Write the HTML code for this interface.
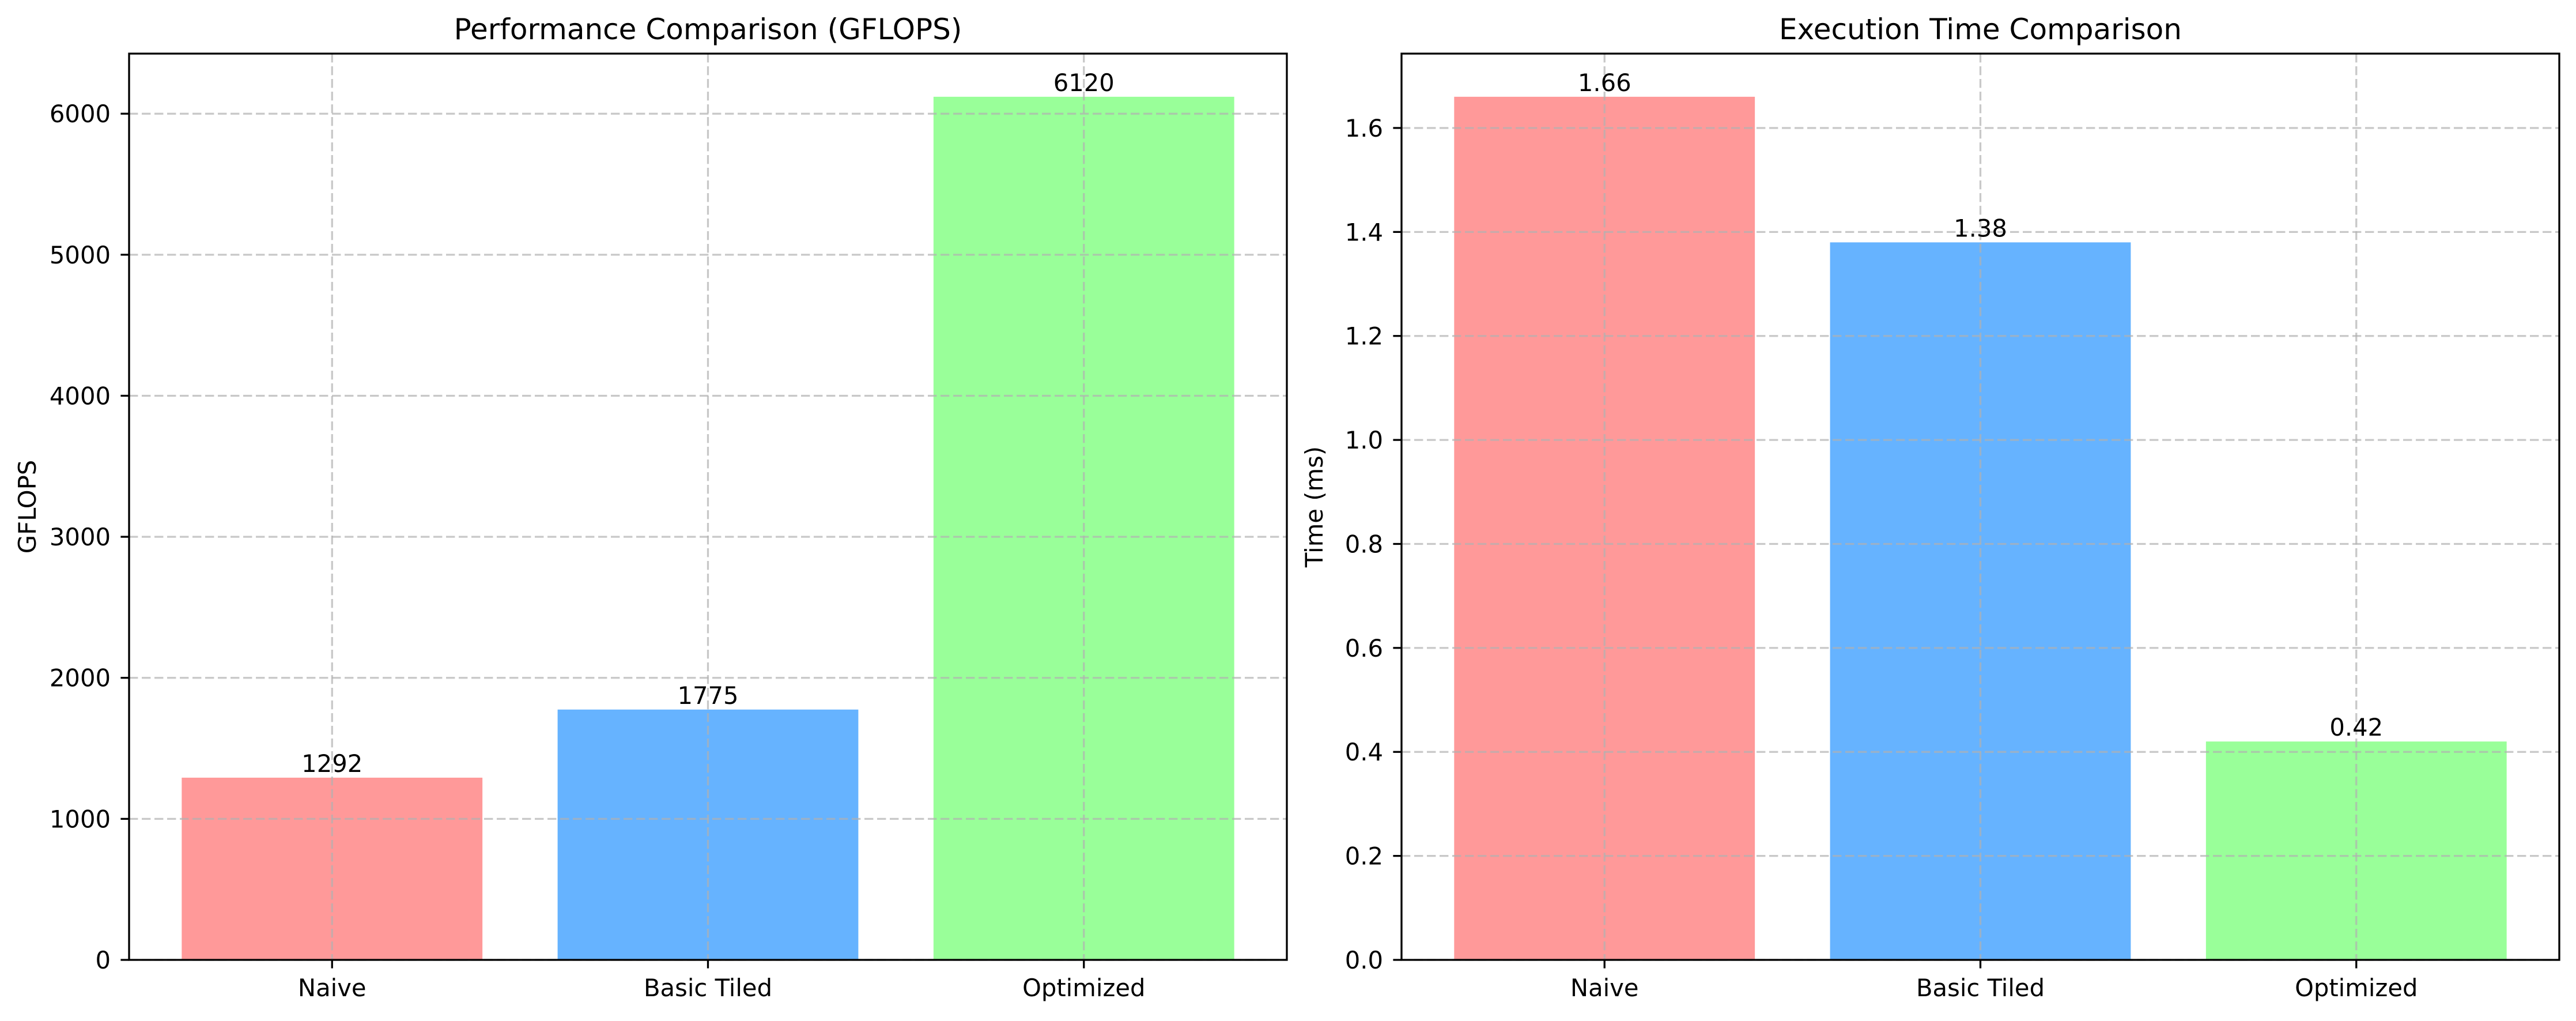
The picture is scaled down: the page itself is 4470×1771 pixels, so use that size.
<!DOCTYPE html>
<html><head><meta charset="utf-8"><style>
html,body{margin:0;padding:0;background:#fff;}
svg text{font-family:"DejaVu Sans","Liberation Sans",sans-serif;fill:#000;}
</style></head><body>
<svg id="fig" width="4470" height="1766" xmlns="http://www.w3.org/2000/svg"></svg>
<script>
const categories = ["Naive", "Basic Tiled", "Optimized"];
const gflopsValues = [1292, 1775, 6120];
const gflopsLabels = ["1292", "1775", "6120"];
const gflopsTicks = [0, 1000, 2000, 3000, 4000, 5000, 6000];
const gflopsTickLabels = ["0", "1000", "2000", "3000", "4000", "5000", "6000"];
const timeValues = [1.66, 1.38, 0.42];
const timeLabels = ["1.66", "1.38", "0.42"];
const timeTicks = [0, 0.2, 0.4, 0.6, 0.8, 1.0, 1.2, 1.4, 1.6];
const timeTickLabels = ["0.0", "0.2", "0.4", "0.6", "0.8", "1.0", "1.2", "1.4", "1.6"];
const barColors = ["#ff9999", "#66b3ff", "#99ff99"];

const NS = "http://www.w3.org/2000/svg";
const svg = document.getElementById("fig");
function mk(tag, attrs, parent, text) {
  const e = document.createElementNS(NS, tag);
  for (const k in attrs) e.setAttribute(k, attrs[k]);
  if (text !== undefined) e.textContent = text;
  (parent || svg).appendChild(e);
  return e;
}

function panel(prefix, left, title, ylabel, values, labels, ticks, tickLabels, ylabOff) {
  const top = 93, bottom = 1665, width = 2009;
  const ymax = Math.max(...values) * 1.05;
  const xs = v => left + (v + 0.54) / 3.08 * width;
  const ys = v => bottom - v / ymax * (bottom - top);
  const g = mk("g", {});
  
  

  values.forEach((v, i) => {
    const r = mk("rect", {x: xs(i - 0.4), y: ys(v), width: xs(i + 0.4) - xs(i - 0.4), height: bottom - ys(v), fill: barColors[i]}, g);
    
    
  });
  ticks.forEach((t, i) => {
    const y = ys(t);
    const gl = mk("line", {x1: left, x2: left + width, y1: y, y2: y, stroke: "#b0b0b0", "stroke-opacity": 0.7, "stroke-width": 3.3, "stroke-dasharray": "15.4,6.6"}, g);
    
    
    const tk = mk("line", {x1: left - 14.6, x2: left, y1: y, y2: y, stroke: "#000", "stroke-width": 3.3}, g);
    
    
    const tl = mk("text", {x: left - 32, y: y + 15, "text-anchor": "end", "font-size": 41.7}, g, tickLabels[i]);
    
    
  });
  categories.forEach((c, i) => {
    const x = xs(i);
    const gl = mk("line", {x1: x, x2: x, y1: top, y2: bottom, stroke: "#b0b0b0", "stroke-opacity": 0.7, "stroke-width": 3.3, "stroke-dasharray": "15.4,6.6"}, g);
    
    
    const tk = mk("line", {x1: x, x2: x, y1: bottom, y2: bottom + 14.6, stroke: "#000", "stroke-width": 3.3}, g);
    
    
    const tl = mk("text", {x: x, y: 1728, "text-anchor": "middle", "font-size": 41.7}, g, c);
    
    
  });
  values.forEach((v, i) => {
    const t = mk("text", {x: xs(i), y: ys(v) - 10, "text-anchor": "middle", "font-size": 41.7}, g, labels[i]);
    
    
  });
  const fr = mk("rect", {x: left, y: top, width: width, height: bottom - top, fill: "none", stroke: "#000", "stroke-width": 3.3}, g);
  
  
  const tt = mk("text", {x: left + width / 2, y: 68, "text-anchor": "middle", "font-size": 50}, g, title);
  
  
  const yl = mk("text", {x: 0, y: 0, "text-anchor": "middle", "font-size": 41.7, transform: "translate(" + (left - ylabOff) + "," + ((top + bottom) / 2) + ") rotate(-90)"}, g, ylabel);
  
  
}

panel("gflops", 224, "Performance Comparison (GFLOPS)", "GFLOPS", gflopsValues, gflopsLabels, gflopsTicks, gflopsTickLabels, 162);
panel("time", 2432, "Execution Time Comparison", "Time (ms)", timeValues, timeLabels, timeTicks, timeTickLabels, 137);
</script>
</body></html>
